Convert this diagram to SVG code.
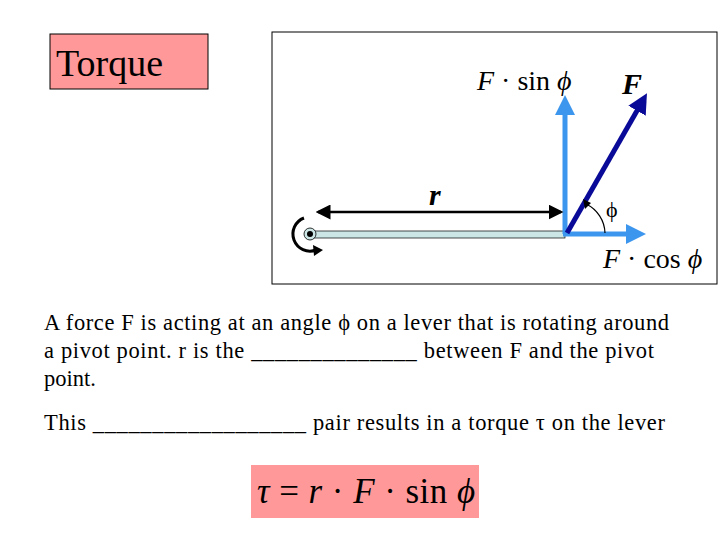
<svg xmlns="http://www.w3.org/2000/svg" width="720" height="540" viewBox="0 0 720 540">
<style>
.t{font-family:"Liberation Serif",serif;fill:#000}
.m{font-family:"Liberation Serif",serif;font-style:italic}
</style>
<defs>
<marker id="lb" markerWidth="4" markerHeight="4" refX="2" refY="2" orient="auto" markerUnits="strokeWidth"><path d="M0,0L4,2L0,4z" fill="#3d96ee"/></marker>
<marker id="db" markerWidth="4" markerHeight="4" refX="2" refY="2" orient="auto" markerUnits="strokeWidth"><path d="M0,0L4,2L0,4z" fill="#0a0a99"/></marker>
<marker id="bk" markerWidth="6" markerHeight="6" refX="5" refY="3" orient="auto-start-reverse" markerUnits="strokeWidth"><path d="M0,0L6,3L0,6z" fill="#000"/></marker>
</defs>
<rect width="720" height="540" fill="#fff"/>
<g id="title"><rect x="50" y="34" width="158" height="55" fill="#ff9999" stroke="#000"/><text class="t" x="56" y="76" font-size="38">Torque</text></g>
<g id="figure">
<rect x="272" y="32" width="445" height="252" fill="#fff" stroke="#000"/>
<rect x="310" y="231" width="255" height="7" fill="#cce6e6" stroke="#000" stroke-width="0.7"/>
<circle cx="310" cy="234" r="6" fill="#cce6e6" stroke="#000" stroke-width="0.8"/>
<circle cx="310" cy="234" r="3" fill="#000"/>
<path d="M304,218 A16,16 0 0 0 316,250" fill="none" stroke="#000" stroke-width="3"/>
<path d="M313,245 L323,250 L314,256z" fill="#000"/>
</g>
<g id="connectors">
<line x1="565" y1="234" x2="565" y2="105" stroke="#3d96ee" stroke-width="5" marker-end="url(#lb)"/>
<line x1="563" y1="234" x2="636" y2="234" stroke="#3d96ee" stroke-width="5" marker-end="url(#lb)"/>
<line x1="567" y1="233" x2="642" y2="102" stroke="#0a0a99" stroke-width="5" marker-end="url(#db)"/>
<line x1="318" y1="212" x2="561" y2="212" stroke="#000" stroke-width="2.5" marker-start="url(#bk)" marker-end="url(#bk)"/>
<path d="M586,204 A33,33 0 0 1 605,233" fill="none" stroke="#000" stroke-width="1.2"/>
<path d="M583,199 L591,203 L585,209z" fill="#000"/>
</g>
<g id="labels">
<text class="m" x="477" y="90" font-size="28">F <tspan font-style="normal">· sin</tspan> ϕ</text>
<text class="m" x="622" y="94" font-size="30" font-weight="bold">F</text>
<text class="m" x="429" y="205" font-size="30" font-weight="bold">r</text>
<text class="t" x="606" y="217" font-size="22">ϕ</text>
<text class="m" x="603" y="268" font-size="28">F <tspan font-style="normal">· cos</tspan> ϕ</text>
</g>
<g id="text" class="t" font-size="22.5">
<text x="44" y="330" textLength="625">A force F is acting at an angle ϕ on a lever that is rotating around</text>
<text x="44" y="358" textLength="610">a pivot point. r is the ______________ between F and the pivot</text>
<text x="44" y="386">point.</text>
<text x="44" y="430" textLength="621">This __________________ pair results in a torque τ on the lever</text>
</g>
<g id="formula"><rect x="251" y="465" width="228" height="53" fill="#ff9999"/>
<text class="m" x="257" y="503" font-size="35" textLength="218">τ <tspan font-style="normal">=</tspan> r <tspan font-style="normal">·</tspan> F <tspan font-style="normal">· sin</tspan> ϕ</text></g>
</svg>
